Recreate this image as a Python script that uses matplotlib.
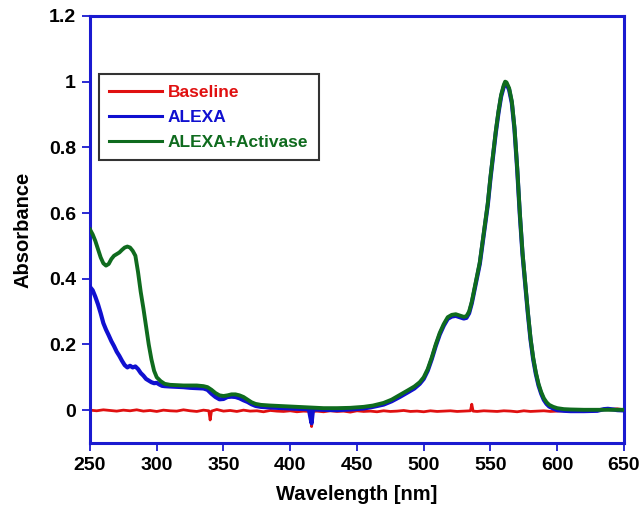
import matplotlib
matplotlib.use("Agg")
import matplotlib.pyplot as plt

# ---------------- data ----------------
green_nm = [250, 252, 254, 256, 258, 260, 262, 264, 266, 268, 270, 272, 274, 276, 278, 280,
            282, 284, 286, 288, 290, 292, 294, 296, 298, 300, 303, 306, 310, 315, 320, 325,
            330, 335, 338, 341, 344, 347, 350, 353, 356, 359, 362, 365, 368, 371, 374, 378,
            385, 395, 405, 415, 425, 435, 445, 455, 462, 470, 476, 482, 488, 493, 497, 500,
            503, 506, 509, 512, 515, 518, 521, 524, 527, 530, 532, 534, 536, 538, 540, 542,
            544, 546, 548, 550, 552, 554, 556, 558, 560, 561, 562, 564, 566, 568, 570, 572,
            574, 576, 578, 580, 582, 584, 586, 588, 590, 592, 594, 597, 600, 605, 610, 620,
            630, 640, 650]
green_abs = [0.550, 0.535, 0.515, 0.490, 0.465, 0.447, 0.440, 0.445, 0.460, 0.470, 0.475, 0.480,
             0.488, 0.495, 0.498, 0.495, 0.485, 0.470, 0.420, 0.360, 0.310, 0.255, 0.200, 0.155,
             0.120, 0.100, 0.088, 0.080, 0.077, 0.076, 0.075, 0.075, 0.075, 0.073, 0.070, 0.062,
             0.052, 0.045, 0.043, 0.045, 0.048, 0.048, 0.045, 0.040, 0.032, 0.024, 0.019, 0.016,
             0.014, 0.012, 0.010, 0.008, 0.006, 0.006, 0.007, 0.010, 0.014, 0.022, 0.032, 0.046,
             0.060, 0.072, 0.085, 0.100, 0.125, 0.160, 0.200, 0.235, 0.262, 0.283, 0.290, 0.292,
             0.288, 0.284, 0.286, 0.300, 0.330, 0.370, 0.410, 0.450, 0.510, 0.570, 0.630, 0.710,
             0.780, 0.850, 0.910, 0.960, 0.990, 1.000, 0.998, 0.980, 0.940, 0.860, 0.740, 0.600,
             0.480, 0.390, 0.300, 0.220, 0.160, 0.115, 0.080, 0.055, 0.036, 0.024, 0.016, 0.010,
             0.006, 0.003, 0.002, 0.001, 0.001, 0.001, 0.001]

blue_nm = [250, 252, 254, 256, 258, 260, 262, 264, 266, 268, 270, 272, 274, 276, 278, 280,
           282, 284, 286, 288, 290, 292, 294, 296, 298, 300, 302, 304, 306, 310, 315, 320,
           325, 330, 335, 338, 341, 344, 347, 350, 353, 356, 359, 362, 365, 368, 371, 374,
           378, 385, 395, 405, 412, 414, 415, 416, 417, 418, 425, 435, 445, 455, 462, 470,
           476, 482, 488, 493, 497, 500, 503, 506, 509, 512, 515, 518, 521, 524, 527, 530,
           532, 534, 536, 538, 540, 542, 544, 546, 548, 550, 552, 554, 556, 558, 560, 561,
           562, 564, 566, 568, 570, 572, 574, 576, 578, 580, 582, 584, 586, 588, 590, 592,
           594, 597, 600, 605, 610, 620, 630, 635, 638, 642, 645, 650]
blue_abs = [0.375, 0.365, 0.345, 0.322, 0.295, 0.265, 0.245, 0.228, 0.210, 0.195, 0.178, 0.165,
            0.150, 0.137, 0.130, 0.135, 0.130, 0.133, 0.125, 0.113, 0.105, 0.095, 0.090, 0.085,
            0.082, 0.083, 0.078, 0.074, 0.073, 0.072, 0.071, 0.070, 0.068, 0.067, 0.066, 0.062,
            0.050, 0.040, 0.033, 0.034, 0.040, 0.041, 0.040, 0.036, 0.030, 0.025, 0.018, 0.013,
            0.010, 0.008, 0.006, 0.004, 0.003, 0.002, -0.020, -0.040, 0.000, 0.002, 0.001, 0.000,
            0.002, 0.005, 0.010, 0.017, 0.027, 0.040, 0.054, 0.066, 0.080, 0.095, 0.120, 0.155,
            0.195, 0.230, 0.257, 0.278, 0.285, 0.287, 0.283, 0.279, 0.281, 0.295, 0.325, 0.365,
            0.405, 0.445, 0.505, 0.565, 0.625, 0.705, 0.775, 0.845, 0.905, 0.955, 0.985, 0.995,
            0.993, 0.975, 0.935, 0.855, 0.735, 0.595, 0.475, 0.385, 0.295, 0.215, 0.155, 0.110,
            0.075, 0.050, 0.031, 0.019, 0.011, 0.005, 0.000, -0.002, -0.003, -0.003, -0.002,
            0.003, 0.004, 0.002, 0.000, -0.001]

red_nm = [250, 255, 260, 265, 270, 275, 280, 285, 290, 295, 300, 305, 310, 315, 320, 325,
          330, 335, 339, 340, 341, 345, 350, 355, 360, 365, 370, 375, 380, 385, 390, 395,
          400, 405, 410, 415, 416, 417, 420, 425, 430, 435, 440, 445, 450, 455, 460, 465,
          470, 475, 480, 485, 490, 495, 500, 505, 510, 515, 520, 525, 530, 535, 536, 537,
          540, 545, 550, 555, 560, 565, 570, 575, 580, 585, 590, 595, 600, 605, 610, 615,
          620, 625, 630, 635, 640, 645, 650]
red_abs = [0.000, -0.002, 0.001, -0.001, -0.003, 0.000, -0.002, 0.001, -0.003, -0.001, -0.004,
           0.000, -0.002, -0.003, 0.001, -0.002, -0.004, 0.000, -0.002, -0.030, -0.003, 0.002,
           -0.003, -0.001, -0.004, 0.000, -0.003, -0.002, -0.005, -0.001, -0.003, -0.004, -0.002,
           -0.005, -0.003, -0.004, -0.050, -0.004, -0.003, -0.005, -0.002, -0.004, -0.003, -0.006,
           -0.002, -0.004, -0.003, -0.005, -0.002, -0.004, -0.003, -0.001, -0.004, -0.003, -0.005,
           -0.002, -0.004, -0.003, -0.002, -0.004, -0.003, -0.002, 0.018, -0.003, -0.004, -0.002,
           -0.003, -0.004, -0.002, -0.003, -0.005, -0.002, -0.004, -0.003, -0.002, -0.004, -0.003,
           -0.002, -0.004, -0.003, -0.002, -0.003, -0.001, 0.003, 0.002, 0.004, 0.001]

series_labels = ["Baseline", "ALEXA", "ALEXA+Activase"]
x_ticks = [250, 300, 350, 400, 450, 500, 550, 600, 650]
y_ticks = [0, 0.2, 0.4, 0.6, 0.8, 1.0, 1.2]
y_ticklabels = ["0", "0.2", "0.4", "0.6", "0.8", "1", "1.2"]

# ---------------- plot ----------------
plt.rcParams["font.family"] = ["Liberation Sans", "DejaVu Sans"]
RED = "#e01010"
BLUE = "#1010d0"
GREEN = "#0f6b1e"
SPINE = "#1a1ad0"

fig = plt.figure(figsize=(6.41, 5.12), dpi=100)
ax = fig.add_axes([0.1404, 0.1348, 0.833, 0.834])

l1, = ax.plot(red_nm, red_abs, color=RED, lw=2.0, label=series_labels[0], zorder=2)
l2, = ax.plot(blue_nm, blue_abs, color=BLUE, lw=3.0, label=series_labels[1], zorder=3)
l3, = ax.plot(green_nm, green_abs, color=GREEN, lw=2.8, label=series_labels[2], zorder=4)

ax.set_xlim(250, 650)
ax.set_ylim(-0.1, 1.2)
ax.set_xticks(x_ticks)
ax.set_yticks(y_ticks)
ax.set_yticklabels(y_ticklabels)

for s in ax.spines.values():
    s.set_color(SPINE)
    s.set_linewidth(2.2)
ax.tick_params(direction="out", length=6, width=1.3, color=SPINE, labelsize=14, pad=4)
for lab in ax.get_xticklabels() + ax.get_yticklabels():
    lab.set_fontweight("bold")

ax.set_xlabel("Wavelength [nm]", fontsize=14.5, fontweight="bold", labelpad=8)
ax.set_ylabel("Absorbance", fontsize=14.5, fontweight="bold", labelpad=12)

leg = ax.legend(handles=[l1, l2, l3], loc="upper left", bbox_to_anchor=(0.017, 0.864),
                frameon=True, fancybox=False, edgecolor="#333333", framealpha=1,
                prop={"weight": "bold", "size": 12.5}, handlelength=3.0, handletextpad=0.35,
                borderpad=0.6, labelspacing=0.58, borderaxespad=0)
leg.get_frame().set_linewidth(1.5)
for txt, c in zip(leg.get_texts(), [RED, BLUE, GREEN]):
    txt.set_color(c)
for h in leg.legend_handles:
    h.set_linewidth(2.2)

fig.savefig("out.png", dpi=100)
